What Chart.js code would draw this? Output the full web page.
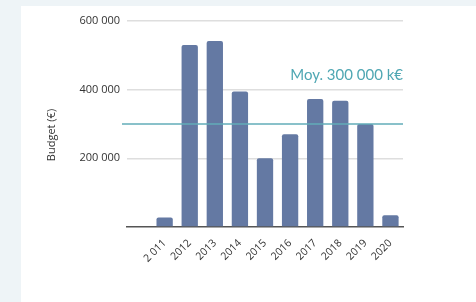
<!DOCTYPE html>
<html>
<head>
<meta charset="utf-8">
<script src="https://cdn.jsdelivr.net/npm/chart.js@4"></script>
<style>
  body { margin:0; background:#eef4f7; }
  #carte { position:absolute; left:21px; top:6px; width:455px; height:296px; background:#fff; }
  #budget { position:absolute; left:0; top:0; }
</style>
</head>
<body>
<div id="carte"></div>
<canvas id="budget" width="476" height="302"></canvas>
<script>
// budget par annee (euros)
annees = ['', '2 011', '2012', '2013', '2014', '2015', '2016', '2017', '2018', '2019', '2020']
budgets = [null, 28000, 530000, 542000, 395000, 200000, 270000, 373000, 368000, 300000, 34000]
moyenne = 300000
texteMoyenne = 'Moy. 300 000 k€'
titreAxe = 'Budget (€)'
graduations = [0, 200000, 400000, 600000]

function formate(v) {
  return v.toString().replace(/\B(?=(\d{3})+(?!\d))/g, ' ')
}

// ligne de la moyenne + son texte, et titre de l'axe
const ligneMoyenne = {
  id: 'ligneMoyenne',
  afterDatasetsDraw(chart) {
    const ctx = chart.ctx
    const y = chart.scales.y.getPixelForValue(moyenne)
    const area = chart.chartArea
    ctx.save()
    ctx.strokeStyle = '#62adb8'
    ctx.lineWidth = 1.5
    ctx.beginPath()
    ctx.moveTo(area.left - 5, y)
    ctx.lineTo(area.right, y)
    ctx.stroke()
    ctx.fillStyle = '#4fa7b3'
    ctx.font = '15px Lato'
    ctx.textAlign = 'right'
    ctx.textBaseline = 'alphabetic'
    ctx.fillText(texteMoyenne, area.right, y - 44)
    // titre vertical
    ctx.fillStyle = '#333'
    ctx.font = '11px "Open Sans"'
    ctx.textAlign = 'center'
    ctx.textBaseline = 'middle'
    ctx.translate(52, y + 11)
    ctx.rotate(-Math.PI / 2)
    ctx.fillText(titreAxe, 0, 0)
    ctx.restore()
  }
}

data = {
  labels: annees,
  datasets: [{
    label: 'Budget',
    data: budgets,
    backgroundColor: '#6479a3',
    borderRadius: 2,
    borderSkipped: 'bottom',
    barPercentage: 0.65,
    categoryPercentage: 1
  }]
}

const myChart = new Chart(
  document.getElementById('budget'),
  {
    type: 'bar',
    data: data,
    plugins: [ligneMoyenne],
    options: {
      responsive: false,
      animation: false,
      devicePixelRatio: 1,
      layout: { padding: { left: 41, right: 73, top: 21, bottom: 0 } },
      plugins: { legend: { display: false }, tooltip: { enabled: false } },
      scales: {
        x: {
          grid: { display: false },
          border: { display: true, color: '#555', width: 1.5 },
          ticks: {
            color: '#333',
            font: { family: 'Open Sans', size: 10.5 },
            autoSkip: false,
            minRotation: 45,
            maxRotation: 45,
            padding: 2
          },
          afterFit: function(scale) { scale.height = 75 }
        },
        y: {
          min: 0,
          max: 600000,
          afterBuildTicks: function(scale) { scale.ticks = graduations.map(v => ({ value: v })) },
          grid: {
            color: function(c) { return c.tick && c.tick.value === 0 ? 'rgba(0,0,0,0)' : '#dedede' },
            lineWidth: 1.5,
            drawTicks: false
          },
          border: { display: false },
          ticks: {
            color: '#333',
            font: { family: 'Open Sans', size: 11 },
            padding: 7,
            callback: function(v) { return v === 0 ? '' : formate(v) }
          },
          afterFit: function(scale) { scale.width = 86 }
        }
      }
    }
  }
)
</script>
</body>
</html>
